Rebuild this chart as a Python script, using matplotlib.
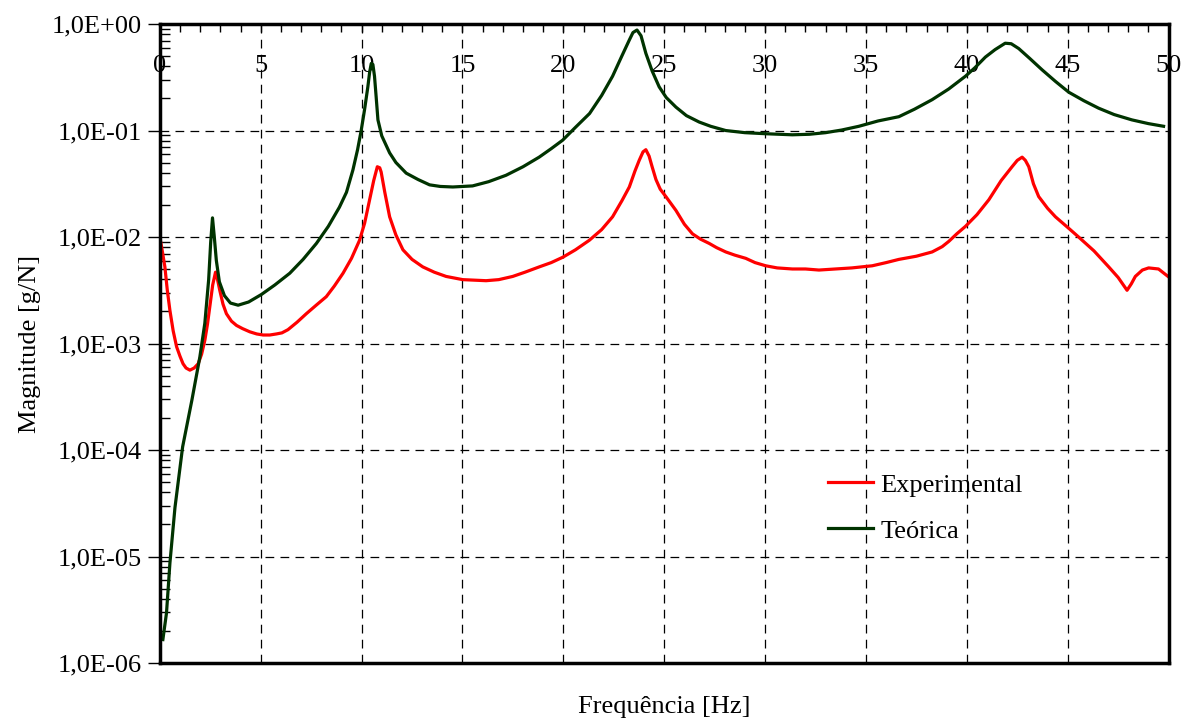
import numpy as np
import matplotlib.pyplot as plt
from matplotlib.ticker import FuncFormatter, FixedLocator, MultipleLocator, NullFormatter

# Curva experimental: frequência [Hz] e log10 da magnitude [g/N]
freq_exp = [0.0, 0.12, 0.25, 0.37, 0.5, 0.66, 0.83, 1.0, 1.15, 1.3, 1.49, 1.7, 1.9,
            2.07, 2.23, 2.36, 2.48, 2.62, 2.76, 2.86, 2.97, 3.13, 3.3, 3.55, 3.8,
            4.1, 4.46, 4.8, 5.12, 5.45, 5.78, 6.05, 6.35, 6.8, 7.26, 7.75, 8.25,
            8.65, 9.08, 9.5, 9.9, 10.15, 10.4, 10.6, 10.78, 10.9, 10.97, 11.15,
            11.39, 11.7, 12.05, 12.5, 13.03, 13.6, 14.19, 15.01, 16.17, 16.8,
            17.49, 18.1, 18.81, 19.4, 19.97, 20.6, 21.29, 21.9, 22.44, 22.9,
            23.27, 23.55, 23.76, 23.95, 24.09, 24.25, 24.4, 24.59, 24.8, 25.08,
            25.35, 25.58, 26.0, 26.4, 26.8, 27.23, 27.6, 28.05, 28.5, 29.04,
            29.5, 30.03, 30.6, 31.35, 32.0, 32.67, 33.5, 34.3, 35.31, 36.0,
            36.63, 37.5, 38.28, 38.78, 39.11, 39.5, 39.93, 40.5, 41.09, 41.7,
            42.24, 42.5, 42.74, 42.9, 43.07, 43.3, 43.56, 44.0, 44.39, 45.0,
            45.54, 46.3, 47.03, 47.5, 47.94, 48.15, 48.35, 48.7, 49.01, 49.5,
            49.97]
logmag_exp = [-2.0, -2.13, -2.28, -2.5, -2.69, -2.88, -3.03, -3.12, -3.19, -3.23,
              -3.25, -3.23, -3.19, -3.1, -2.97, -2.82, -2.65, -2.45, -2.33, -2.4,
              -2.5, -2.63, -2.72, -2.79, -2.83, -2.86, -2.89, -2.91, -2.92, -2.92,
              -2.91, -2.9, -2.87, -2.8, -2.72, -2.64, -2.56, -2.46, -2.34, -2.2,
              -2.03, -1.87, -1.65, -1.47, -1.34, -1.35, -1.39, -1.58, -1.81, -1.98,
              -2.12, -2.21, -2.28, -2.33, -2.37, -2.40, -2.41, -2.4, -2.37, -2.33,
              -2.28, -2.24, -2.19, -2.12, -2.03, -1.93, -1.81, -1.66, -1.53, -1.38,
              -1.28, -1.2, -1.18, -1.24, -1.34, -1.46, -1.55, -1.62, -1.69, -1.75,
              -1.88, -1.97, -2.02, -2.06, -2.10, -2.14, -2.17, -2.20, -2.24, -2.27,
              -2.29, -2.30, -2.30, -2.31, -2.30, -2.29, -2.27, -2.24, -2.21, -2.18,
              -2.14, -2.09, -2.04, -1.97, -1.90, -1.79, -1.65, -1.47, -1.34, -1.28,
              -1.25, -1.28, -1.34, -1.5, -1.62, -1.73, -1.81, -1.91, -2.0, -2.13,
              -2.28, -2.38, -2.50, -2.44, -2.37, -2.31, -2.29, -2.30, -2.37]

# Curva teórica
freq_teo = [0.15, 0.33, 0.5, 0.75, 1.13, 1.59, 1.98, 2.23, 2.42, 2.52, 2.61, 2.7,
            2.8, 2.95, 3.2, 3.5, 3.88, 4.4, 5.03, 5.7, 6.44, 7.1, 7.76, 8.35, 8.9,
            9.25, 9.57, 9.8, 9.98, 10.15, 10.31, 10.4, 10.48, 10.56, 10.64, 10.72,
            10.81, 11.0, 11.39, 11.7, 12.21, 12.8, 13.37, 13.9, 14.52, 15.5, 16.3,
            17.16, 18.0, 18.8, 19.4, 19.97, 20.6, 21.3, 21.9, 22.44, 22.9, 23.27,
            23.45, 23.65, 23.85, 24.09, 24.4, 24.75, 25.1, 25.58, 26.1, 26.73,
            27.3, 28.05, 29.0, 30.03, 31.35, 32.2, 33.0, 33.8, 34.65, 35.6, 36.63,
            37.4, 38.28, 39.1, 39.93, 40.4, 40.92, 41.4, 41.9, 42.2, 42.57, 43.1,
            43.73, 44.4, 45.05, 45.8, 46.53, 47.3, 48.18, 49.0, 49.75]
logmag_teo = [-5.78, -5.53, -5.06, -4.54, -3.97, -3.53, -3.13, -2.81, -2.40, -2.05,
              -1.82, -2.0, -2.22, -2.42, -2.55, -2.62, -2.64, -2.61, -2.54, -2.45,
              -2.34, -2.21, -2.06, -1.9, -1.72, -1.58, -1.37, -1.18, -1.0, -0.8,
              -0.59, -0.45, -0.37, -0.38, -0.49, -0.68, -0.9, -1.05, -1.21, -1.3,
              -1.40, -1.46, -1.51, -1.525, -1.53, -1.52, -1.48, -1.42, -1.34,
              -1.25, -1.17, -1.09, -0.97, -0.84, -0.67, -0.49, -0.3, -0.15, -0.08,
              -0.056, -0.11, -0.275, -0.44, -0.59, -0.69, -0.78, -0.86, -0.92,
              -0.96, -1.0, -1.02, -1.03, -1.04, -1.035, -1.02, -0.995, -0.96,
              -0.91, -0.87, -0.8, -0.71, -0.61, -0.49, -0.41, -0.31, -0.24, -0.18,
              -0.185, -0.23, -0.32, -0.43, -0.54, -0.64, -0.72, -0.79, -0.85,
              -0.90, -0.935, -0.96]

# décadas do eixo y
decades = [-6, -5, -4, -3, -2, -1, 0]

plt.rcParams['font.family'] = ['Liberation Serif', 'DejaVu Serif']

fig = plt.figure(figsize=(11.84, 7.22), dpi=100)
ax = fig.add_axes([0.135, 0.0817, 0.852, 0.885])

ax.plot(freq_exp, np.power(10.0, logmag_exp), color='#ff0000', lw=2.3,
        label='Experimental')
ax.plot(freq_teo, np.power(10.0, logmag_teo), color='#003300', lw=2.3,
        label='Teórica')

ax.set_yscale('log')
ax.set_xlim(0, 50)
ax.set_ylim(1e-6, 1)

# eixo x em cima, rótulos dentro do gráfico
ax.xaxis.tick_top()
ax.xaxis.set_major_locator(MultipleLocator(5))
ax.xaxis.set_minor_locator(MultipleLocator(1))
ax.tick_params(axis='x', which='major', direction='in', length=6, width=1,
               labelsize=19, pad=-38)
ax.tick_params(axis='x', which='minor', direction='in', length=6, width=1)

major_y = [10.0 ** d for d in decades]
minor_y = [m * 10.0 ** d for d in decades[:-1] for m in range(2, 10)]
ax.yaxis.set_major_locator(FixedLocator(major_y))
ax.yaxis.set_minor_locator(FixedLocator(minor_y))
ax.yaxis.set_major_formatter(FuncFormatter(
    lambda v, p: '1,0E{:+03d}'.format(int(round(np.log10(v))))))
ax.yaxis.set_minor_formatter(NullFormatter())
ax.tick_params(axis='y', which='major', direction='out', length=9, width=1,
               labelsize=19, pad=4)
ax.tick_params(axis='y', which='minor', direction='in', length=7, width=1)

ax.grid(True, which='major', color='black', linestyle=(0, (7, 5)), lw=0.9)

for s in ax.spines.values():
    s.set_linewidth(2.5)
    s.set_color('black')

ax.set_xlabel('Frequência [Hz]', fontsize=19, labelpad=24)
ax.set_ylabel('Magnitude [g/N]', fontsize=19, labelpad=8)

ax.legend(loc='upper left', bbox_to_anchor=(0.662, 0.297), frameon=False,
          fontsize=19, handlelength=1.7, handletextpad=0.3, labelspacing=0.85,
          borderpad=0, borderaxespad=0)

fig.savefig('out.png', dpi=100)
